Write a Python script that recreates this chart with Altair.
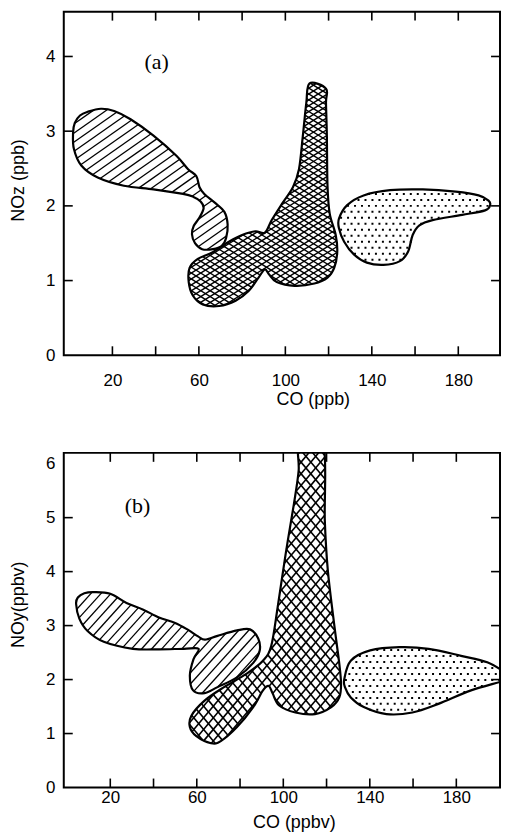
import numpy as np
import pandas as pd
import altair as alt

# ---------------- data ----------------
# Panel (a): NOz vs CO
A_HATCH = [(1.8, 2.98), (2.6, 3.11), (5.0, 3.21), (8.6, 3.26), (14.7, 3.30), (20.8, 3.27),
           (28.4, 3.16), (39.0, 2.94), (49.6, 2.67), (55.0, 2.49), (58.8, 2.40), (60.3, 2.25),
           (62.5, 2.16), (67.5, 2.04), (71.8, 1.92), (73.3, 1.75), (72.6, 1.57), (70.5, 1.46),
           (66.5, 1.42), (61.5, 1.42), (58.2, 1.50), (56.8, 1.62), (57.6, 1.73), (60.2, 1.84),
           (62.2, 1.97), (60.8, 2.06), (57.5, 2.12), (52.7, 2.16), (39.0, 2.22), (25.3, 2.27),
           (13.2, 2.38), (5.6, 2.54), (2.2, 2.76)]
A_CROSS = [(111.2, 3.64), (118.8, 3.57), (118.8, 3.38), (119.2, 2.94), (119.5, 2.27),
           (120.5, 1.90), (123.3, 1.61), (124.0, 1.38), (122.6, 1.17), (119.5, 1.04),
           (113.4, 0.96), (104.3, 0.93), (96.0, 0.98), (92.5, 1.08), (90.5, 1.15), (87.6, 1.04),
           (83.0, 0.86), (77.0, 0.73), (69.4, 0.66), (61.8, 0.68), (57.2, 0.80), (55.3, 0.98),
           (55.7, 1.17), (59.5, 1.29), (66.4, 1.38), (73.9, 1.52), (80.0, 1.61), (86.1, 1.66),
           (90.5, 1.64), (93.7, 1.81), (98.5, 2.03), (103.5, 2.25), (106.3, 2.49),
           (108.1, 2.94), (109.7, 3.38)]
A_DOTS = [(124.8, 1.83), (128.6, 2.01), (136.2, 2.14), (148.4, 2.21), (163.6, 2.22),
          (178.8, 2.19), (189.4, 2.14), (194.0, 2.07), (194.7, 2.01), (192.4, 1.94),
          (181.8, 1.88), (168.1, 1.81), (162.0, 1.74), (158.9, 1.61), (156.8, 1.39),
          (153.0, 1.26), (145.4, 1.21), (137.7, 1.24), (131.7, 1.35), (127.2, 1.52),
          (124.8, 1.70)]

# Panel (b): NOy vs CO
B_HATCH = [(4.2, 3.40), (5.0, 3.52), (8.0, 3.60), (12.5, 3.62), (20.0, 3.59), (27.5, 3.42),
           (35.0, 3.30), (42.5, 3.15), (50.0, 3.05), (56.0, 2.92), (60.6, 2.80), (63.8, 2.74),
           (69.6, 2.81), (78.6, 2.91), (84.6, 2.93), (88.4, 2.76), (89.1, 2.54), (86.1, 2.31),
           (78.6, 2.04), (69.6, 1.86), (63.6, 1.75), (58.3, 1.80), (56.8, 2.08), (58.5, 2.38),
           (60.8, 2.57), (54.0, 2.57), (42.5, 2.56), (30.5, 2.57), (17.0, 2.70), (9.5, 2.90),
           (5.7, 3.13)]
B_CROSS = [(107.5, 6.40), (118.4, 6.40), (119.2, 4.94), (120.6, 4.02), (123.7, 2.97),
           (125.9, 2.29), (126.7, 1.92), (125.9, 1.67), (122.2, 1.49), (114.6, 1.36),
           (105.6, 1.39), (98.1, 1.52), (95.1, 1.74), (93.3, 1.88), (90.6, 1.80), (86.1, 1.49),
           (78.6, 1.12), (71.1, 0.86), (66.6, 0.82), (59.8, 0.95), (56.8, 1.12), (57.5, 1.33),
           (63.6, 1.61), (72.6, 1.86), (83.1, 2.11), (90.6, 2.35), (94.4, 2.62), (97.4, 3.34),
           (101.1, 4.33), (104.9, 5.25), (107.1, 5.87)]
B_DOTS = [(128.2, 2.01), (131.2, 2.35), (140.2, 2.54), (153.7, 2.60), (167.2, 2.57),
          (182.2, 2.44), (194.3, 2.32), (203.0, 2.12), (205.0, 2.05), (202.0, 1.98),
          (186.8, 1.80), (171.7, 1.55), (159.7, 1.39), (147.7, 1.36), (137.2, 1.49),
          (131.2, 1.67), (128.5, 1.86)]

X_LABELS = [20, 60, 100, 140, 180]
X_TICKS = [20, 40, 60, 80, 100, 120, 140, 160, 180]
A_Y_LABELS = [0, 1, 2, 3, 4]
A_Y_TICKS = [1, 2, 3, 4]
B_Y_LABELS = [0, 1, 2, 3, 4, 5, 6]
B_Y_TICKS = [1, 2, 3, 4, 5]
PANEL_LABELS = {"a": ("(a)", 40.5, 3.92), "b": ("(b)", 32.6, 5.22)}

# ---------------- geometry helpers (textures derived from outlines) ----------------
def smooth_closed(pts, n=12):
    P = np.asarray(pts, float)
    N = len(P)
    out = []
    for i in range(N):
        p0, p1, p2, p3 = P[i - 1], P[i], P[(i + 1) % N], P[(i + 2) % N]
        c1 = p1 + (p2 - p0) / 6.0
        c2 = p2 - (p3 - p1) / 6.0
        for t in np.linspace(0, 1, n, endpoint=False):
            out.append((1 - t) ** 3 * p1 + 3 * (1 - t) ** 2 * t * c1 + 3 * (1 - t) * t ** 2 * c2 + t ** 3 * p2)
    return np.array(out)


def hatch(pts, sx, sy, angle, spacing, width):
    poly = smooth_closed(pts) * np.array([sx, sy])
    a = np.radians(angle)
    d = np.array([np.cos(a), np.sin(a)])
    nr = np.array([-np.sin(a), np.cos(a)])
    Q = np.roll(poly, -1, axis=0)
    fpa = poly @ nr
    fqa = Q @ nr
    rows = []
    for k in range(int(np.ceil(fpa.min() / spacing)), int(np.floor(fpa.max() / spacing)) + 1):
        c = k * spacing
        fp = fpa - c
        fq = fqa - c
        idx = np.where(((fp <= 0) & (fq > 0)) | ((fq <= 0) & (fp > 0)))[0]
        if len(idx) < 2:
            continue
        t = fp[idx] / (fp[idx] - fq[idx])
        pi = poly[idx] + t[:, None] * (Q[idx] - poly[idx])
        s = np.sort(pi @ d)
        for j in range(0, len(s) - 1, 2):
            p = c * nr + s[j] * d
            q = c * nr + s[j + 1] * d
            rows.append({"x": p[0] / sx, "y": p[1] / sy, "x2": q[0] / sx, "y2": q[1] / sy, "w": width})
    return rows


def inside(poly, px, py):
    x = poly[:, 0]
    y = poly[:, 1]
    x2 = np.roll(x, -1)
    y2 = np.roll(y, -1)
    res = np.zeros(px.shape, bool)
    for i in range(len(x)):
        cond = ((y[i] > py) != (y2[i] > py))
        with np.errstate(divide="ignore", invalid="ignore"):
            xi = x[i] + (py - y[i]) * (x2[i] - x[i]) / (y2[i] - y[i])
        res ^= cond & (px < xi)
    return res


def stipple(pts, sx, sy, dx, dy):
    poly = smooth_closed(pts) * np.array([sx, sy])
    ys = np.arange(np.floor(poly[:, 1].min() / dy), np.ceil(poly[:, 1].max() / dy) + 1) * dy
    out = []
    for j, yv in enumerate(ys):
        off = (j % 2) * dx / 2
        xs = np.arange(np.floor(poly[:, 0].min() / dx) - 1, np.ceil(poly[:, 0].max() / dx) + 1) * dx + off
        yy = np.full_like(xs, yv)
        m = inside(poly, xs, yy)
        for xv in xs[m]:
            out.append({"x": xv / sx, "y": yv / sy})
    return out


def outline_df(blobs):
    rows = []
    for name, pts in blobs.items():
        for i, (x, y) in enumerate(pts):
            rows.append({"blob": name, "i": i, "x": x, "y": y})
    return pd.DataFrame(rows)


# ---------------- panel builder ----------------
FONT = "Liberation Sans"
W = 438


def panel(key, blobs, hatch_rows, dot_rows, xdom, ydom, H, xtitle, ytitle, ylabels, yticks,
          xlabelpad, xtitlepad, xtitle_x, ytitle_y):
    xs = alt.Scale(domain=xdom, nice=False, zero=False)
    ys = alt.Scale(domain=ydom, nice=False, zero=False)
    xax = alt.Axis(title=xtitle, values=X_LABELS, format="d", labelPadding=xlabelpad,
                   titlePadding=xtitlepad, titleX=xtitle_x, ticks=False, tickSize=0, domain=False, grid=False,
                   labelFont=FONT, labelFontSize=17, labelColor="black",
                   titleFont=FONT, titleFontSize=18, titleFontWeight="normal", titleColor="black")
    yax = alt.Axis(title=ytitle, values=ylabels, format="d", labelPadding=9, titlePadding=18,
                   titleY=ytitle_y, ticks=False, tickSize=0, domain=False, grid=False,
                   labelFont=FONT, labelFontSize=17, labelColor="black",
                   titleFont=FONT, titleFontSize=18, titleFontWeight="normal", titleColor="black")
    X = lambda f: alt.X(f, type="quantitative", scale=xs, axis=xax)
    Y = lambda f: alt.Y(f, type="quantitative", scale=ys, axis=yax)

    hdf = pd.DataFrame(hatch_rows)
    ddf = pd.DataFrame(dot_rows)
    odf = outline_df(blobs)
    tx = pd.DataFrame({"v": X_TICKS})
    ty = pd.DataFrame({"v": yticks})
    lab = PANEL_LABELS[key]
    ldf = pd.DataFrame({"t": [lab[0]], "x": [lab[1]], "y": [lab[2]]})

    layers = [
        alt.Chart(hdf).mark_rule(color="black", clip=True).encode(
            x=X("x"), y=Y("y"), x2="x2", y2="y2", strokeWidth=alt.StrokeWidth("w:Q", scale=None)),
        alt.Chart(ddf).mark_square(color="black", size=4, opacity=1, clip=True).encode(x=X("x"), y=Y("y")),
        alt.Chart(odf).mark_line(color="black", strokeWidth=2.2, interpolate="cardinal-closed", clip=True).encode(
            x=X("x"), y=Y("y"), detail="blob:N", order="i:Q"),
        alt.Chart(tx).mark_rule(color="black", strokeWidth=1.6).encode(
            x=X("v"), y=alt.value(H), y2=alt.value(H - 9)),
        alt.Chart(tx).mark_rule(color="black", strokeWidth=1.6).encode(
            x=X("v"), y=alt.value(0), y2=alt.value(9)),
        alt.Chart(ty).mark_rule(color="black", strokeWidth=1.6).encode(
            y=Y("v"), x=alt.value(0), x2=alt.value(9)),
        alt.Chart(ty).mark_rule(color="black", strokeWidth=1.6).encode(
            y=Y("v"), x=alt.value(W), x2=alt.value(W - 9)),
        alt.Chart(ldf).mark_text(font="Liberation Serif", fontSize=22, color="black").encode(
            x=X("x"), y=Y("y"), text="t:N"),
    ]
    return alt.layer(*layers).properties(width=W, height=H)


# Panel (a)
HA = 345
XDA = [-2.5, 199.3]
YDA = [0, 4.6]
SXA = W / (XDA[1] - XDA[0])
SYA = HA / (YDA[1] - YDA[0])
a_hatch = (hatch(A_HATCH, SXA, SYA, 35, 7.5, 1.3)
           + hatch(A_CROSS, SXA, SYA, 32, 5.0, 1.4)
           + hatch(A_CROSS, SXA, SYA, -32, 5.0, 1.4))
a_dots = stipple(A_DOTS, SXA, SYA, 7.0, 6.0)
chart_a = panel("a", {"h": A_HATCH, "c": A_CROSS, "d": A_DOTS}, a_hatch, a_dots, XDA, YDA, HA,
                "CO (ppb)", "NOz (ppb)", A_Y_LABELS, A_Y_TICKS, 17, 2, 250, 169)

# Panel (b)
HB = 336
XDB = [-1.5, 200.2]
YDB = [0, 6.2]
SXB = W / (XDB[1] - XDB[0])
SYB = HB / (YDB[1] - YDB[0])
b_hatch = (hatch(B_HATCH, SXB, SYB, 48, 7.5, 1.3)
           + hatch(B_CROSS, SXB, SYB, 50, 7.5, 1.6)
           + hatch(B_CROSS, SXB, SYB, -50, 7.5, 1.6))
b_dots = stipple(B_DOTS, SXB, SYB, 7.0, 6.0)
chart_b = panel("b", {"h": B_HATCH, "c": B_CROSS, "d": B_DOTS}, b_hatch, b_dots, XDB, YDB, HB,
                "CO (ppbv)", "NOy(ppbv)", B_Y_LABELS, B_Y_TICKS, 2, 8, 231, 152)

chart = alt.vconcat(chart_a, chart_b, spacing=42).properties(
    padding={"left": 0, "top": 0, "right": 0, "bottom": 0},
    background="white",
).configure_view(stroke="black", strokeWidth=2)

chart.save("out.html", embed_options={"renderer": "svg", "actions": False})
